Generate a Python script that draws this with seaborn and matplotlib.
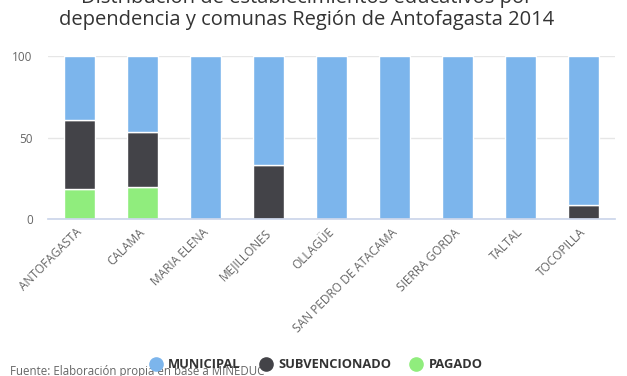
import numpy as np
import pandas as pd
import matplotlib
matplotlib.use("Agg")
import matplotlib.pyplot as plt
import matplotlib.transforms as mtransforms
import seaborn as sns
from matplotlib.lines import Line2D

comunas = ["ANTOFAGASTA", "CALAMA", "MARIA ELENA", "MEJILLONES", "OLLAGÜE",
           "SAN PEDRO DE ATACAMA", "SIERRA GORDA", "TALTAL", "TOCOPILLA"]
municipal = [39.1, 46.8, 100, 67.0, 100, 100, 100, 100, 91.6]
subvencionado = [42.5, 33.6, 0, 33.0, 0, 0, 0, 0, 8.4]
pagado = [18.4, 19.6, 0, 0, 0, 0, 0, 0, 0]
series_names = ["MUNICIPAL", "SUBVENCIONADO", "PAGADO"]
colors = ["#7cb5ec", "#434348", "#90ed7d"]
yticks = [0, 50, 100]

title = "Distribución de establecimientos educativos por\ndependencia y comunas Región de Antofagasta 2014"
source = "Fuente: Elaboración propia en base a MINEDUC"

sns.set_theme(style="white")
plt.rcParams["font.family"] = ["Open Sans", "DejaVu Sans"]

fig = plt.figure(figsize=(6.27, 3.76), dpi=100)
ax = fig.add_axes([48/627, 1-219/376, (615-48)/627, (219-56)/376])

df = pd.DataFrame({"comuna": comunas, "mun": municipal, "sub": subvencionado, "pag": pagado})
df["pag_b"] = 0.0
df["sub_b"] = df["pag"]
df["mun_b"] = df["pag"] + df["sub"]

for col, bcol, c in [("pag", "pag_b", colors[2]), ("sub", "sub_b", colors[1]), ("mun", "mun_b", colors[0])]:
    sns.barplot(data=df, x="comuna", y=col, bottom=df[bcol].values, color=c,
                width=0.48, edgecolor="white", linewidth=1, saturation=1, ax=ax, zorder=3)

ax.set_ylim(0, 100)
ax.set_xlim(-0.5, len(comunas)-0.5)
ax.set_yticks(yticks)
ax.set_yticklabels([str(v) for v in yticks], fontsize=8.5, color="#666666")
ax.yaxis.grid(True, color="#e6e6e6", linewidth=1, zorder=0)
ax.set_xlabel("")
ax.set_ylabel("")
for s in ["top", "right", "left"]:
    ax.spines[s].set_visible(False)
ax.spines["bottom"].set_color("#ccd6eb")
ax.spines["bottom"].set_zorder(4)
ax.tick_params(axis="y", length=0, pad=11)
ax.tick_params(axis="x", length=0, pad=5)
ax.set_xticks(range(len(comunas)))
ax.set_xticklabels(comunas, rotation=45, ha="right", rotation_mode="anchor",
                   fontsize=8.6, color="#666666")
offset = mtransforms.ScaledTranslation(-4/100, 0, fig.dpi_scale_trans)
for lab in ax.get_xticklabels():
    lab.set_transform(lab.get_transform() + offset)

fig.text(307/627, 1-9/376, title, ha="center", va="center", fontsize=14.5, color="#333333",
         linespacing=1.2)

fig.text(10/627, 1-375/376, source, ha="left", va="baseline", fontsize=8.3, color="#666666")

handles = [Line2D([0], [0], marker="o", linestyle="", markersize=9.5, markerfacecolor=c,
                  markeredgecolor=c) for c in colors]
leg = fig.legend(handles, series_names, loc="center", bbox_to_anchor=(316/627, 1-365/376),
                 ncol=3, frameon=False, handletextpad=0.45, columnspacing=1.45,
                 prop={"weight": "bold", "size": 9.3}, handlelength=1.0)
for t in leg.get_texts():
    t.set_color("#333333")

fig.savefig("out.png", dpi=100)
